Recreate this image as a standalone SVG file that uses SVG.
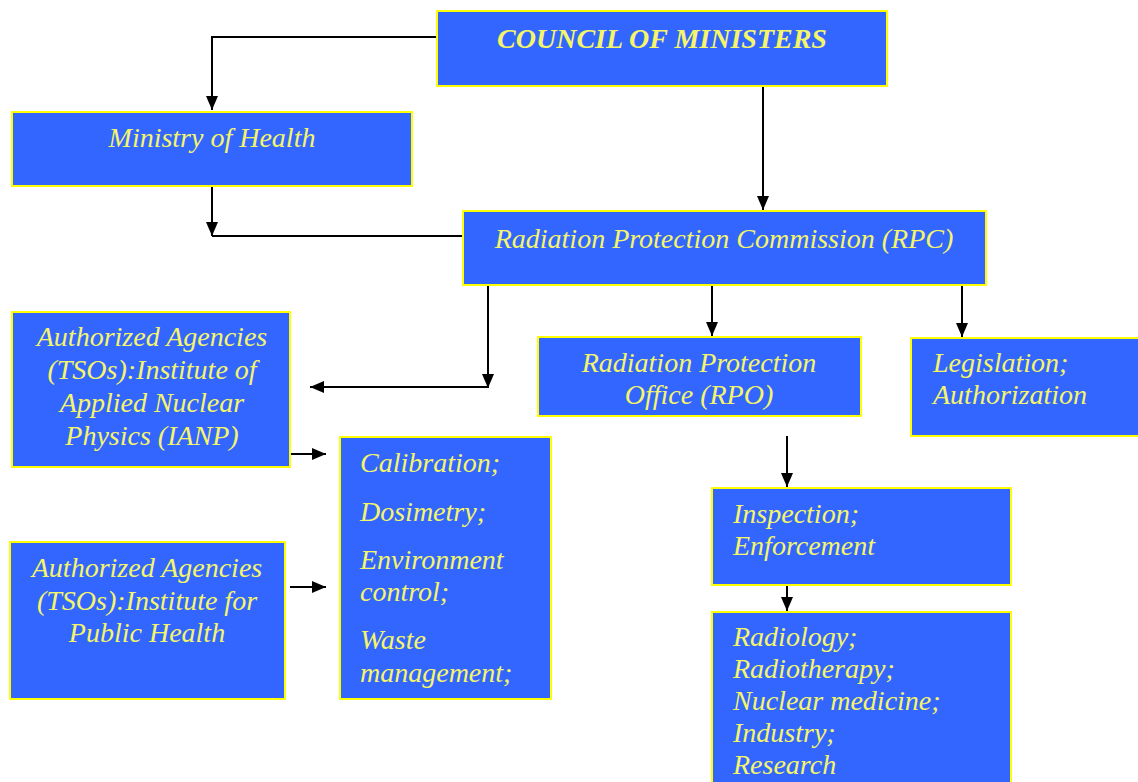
<svg xmlns="http://www.w3.org/2000/svg" width="1138" height="782" viewBox="0 0 1138 782">
<style>
.box{fill:#3366ff;stroke:#ffff00;stroke-width:2}
.t{font-family:'Liberation Serif','Times New Roman',serif;font-style:italic;font-size:28px;fill:#f5f56a}
.c{text-anchor:middle}
.b{font-weight:bold}
.ln{fill:none;stroke:#000;stroke-width:2}
</style>
<defs>
<marker id="ah" viewBox="0 0 14 12" refX="14" refY="6" markerWidth="14" markerHeight="12" markerUnits="userSpaceOnUse" orient="auto">
<path d="M0,0 L14,6 L0,12 z" fill="#000"/>
</marker>
</defs>
<rect width="1138" height="782" fill="#fff"/>
<g id="connectors">
<path class="ln" d="M437,37 H212 V110" marker-end="url(#ah)"/>
<path class="ln" d="M763,86 V210" marker-end="url(#ah)"/>
<path class="ln" d="M212,186 V236" marker-end="url(#ah)"/>
<path class="ln" d="M212,236 H463"/>
<path class="ln" d="M488,285 V388" marker-end="url(#ah)"/>
<path class="ln" d="M488,387 H310" marker-end="url(#ah)"/>
<path class="ln" d="M712,285 V336" marker-end="url(#ah)"/>
<path class="ln" d="M962,285 V337" marker-end="url(#ah)"/>
<path class="ln" d="M290,454 H326" marker-end="url(#ah)"/>
<path class="ln" d="M290,587 H326" marker-end="url(#ah)"/>
<path class="ln" d="M787,436 V487" marker-end="url(#ah)"/>
<path class="ln" d="M787,561 V611" marker-end="url(#ah)"/>
</g>
<g id="council">
<rect class="box" x="437" y="11" width="450" height="75"/>
<text class="t c b" x="662" y="48">COUNCIL OF MINISTERS</text>
</g>
<g id="ministry">
<rect class="box" x="12" y="112" width="400" height="74"/>
<text class="t c" x="212" y="147">Ministry of Health</text>
</g>
<g id="rpc">
<rect class="box" x="463" y="211" width="523" height="74"/>
<text class="t c" x="724" y="248">Radiation Protection Commission (RPC)</text>
</g>
<g id="ianp">
<rect class="box" x="12" y="312" width="278" height="155"/>
<text class="t c" x="152" y="346">Authorized Agencies</text>
<text class="t c" x="152" y="379">(TSOs):Institute of</text>
<text class="t c" x="152" y="412">Applied Nuclear</text>
<text class="t c" x="152" y="445">Physics (IANP)</text>
</g>
<g id="rpo">
<rect class="box" x="538" y="337" width="323" height="79"/>
<text class="t c" x="699" y="372">Radiation Protection</text>
<text class="t c" x="699" y="404">Office (RPO)</text>
</g>
<g id="legislation">
<rect class="box" x="911" y="338" width="230" height="98"/>
<text class="t" x="933" y="372">Legislation;</text>
<text class="t" x="933" y="404">Authorization</text>
</g>
<g id="tso-services">
<rect class="box" x="340" y="437" width="211" height="262"/>
<text class="t" x="360" y="472">Calibration;</text>
<text class="t" x="360" y="521">Dosimetry;</text>
<text class="t" x="360" y="569">Environment</text>
<text class="t" x="360" y="601">control;</text>
<text class="t" x="360" y="649">Waste</text>
<text class="t" x="360" y="682">management;</text>
</g>
<g id="iph">
<rect class="box" x="10" y="542" width="275" height="157"/>
<text class="t c" x="147" y="577">Authorized Agencies</text>
<text class="t c" x="147" y="610">(TSOs):Institute for</text>
<text class="t c" x="147" y="642">Public Health</text>
</g>
<g id="inspection">
<rect class="box" x="712" y="488" width="299" height="97"/>
<text class="t" x="733" y="523">Inspection;</text>
<text class="t" x="733" y="555">Enforcement</text>
</g>
<g id="fields">
<rect class="box" x="712" y="612" width="299" height="180"/>
<text class="t" x="733" y="646">Radiology;</text>
<text class="t" x="733" y="678">Radiotherapy;</text>
<text class="t" x="733" y="710">Nuclear medicine;</text>
<text class="t" x="733" y="742">Industry;</text>
<text class="t" x="733" y="774">Research</text>
</g>
</svg>
